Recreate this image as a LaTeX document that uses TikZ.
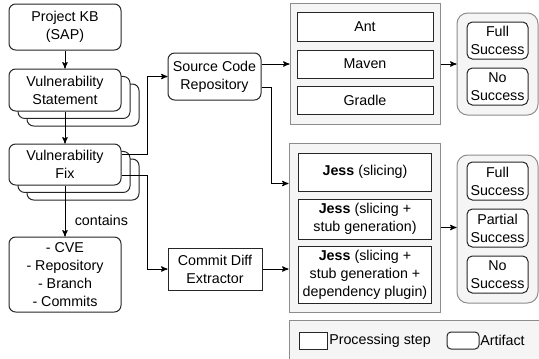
\documentclass[tikz,border=0pt]{standalone}
\usepackage{fontspec}
\setmainfont{Liberation Sans}
\usetikzlibrary{calc}
\usetikzlibrary{arrows}
\usetikzlibrary{shadows}

\newcommand{\jess}{\textbf{Jess}}

\begin{document}
\begin{tikzpicture}[x=0.75pt,y=-0.75pt,>=stealth',
		font=\fontsize{10.7}{13.5}\selectfont,
		every node/.style={align=center,inner sep=0pt},
		sz/.style 2 args={minimum width=#1*0.75pt,minimum height=#2*0.75pt},
		artifact/.style={rectangle,rounded corners=5pt,draw=black!85,fill=white,line width=0.75pt},
		procstep/.style={rectangle,draw=black!85,fill=white,line width=0.75pt},
		group/.style={rectangle,draw=black!45,fill=black!4,line width=0.75pt},
		stack/.style={artifact,
			general shadow={shadow xshift=13.5pt,shadow yshift=-11.25pt,draw=black!85,fill=white,line width=0.75pt},
			general shadow={shadow xshift=6.75pt,shadow yshift=-5.6pt,draw=black!85,fill=white,line width=0.75pt}},
		line/.style={line width=0.75pt}]
		\path[use as bounding box,clip] (0,0) rectangle (539,358);
		
		% grouping boxes
		\node[group,sz={150}{121}] (build) at (365,64) {};
		\node[group,sz={151}{169}] (jess) at (364.5,227.5) {};
		\node[group,rounded corners=8pt,sz={81}{102}] (res1) at (497.5,64) {};
		\node[group,rounded corners=8pt,sz={81}{148}] (res2) at (497.5,229) {};
		\node[group,sz={252}{40}] (legend) at (415,340) {};
		
		% left column
		\node[artifact,sz={112}{46}] (kb) at (65,27) {Project KB\\(SAP)};
		\node[stack,sz={112}{42}] (stmt) at (65,90) {Vulnerability\\Statement};
		\node[stack,sz={112}{41}] (fix) at (65,164.5) {Vulnerability\\Fix};
		\node[artifact,sz={112}{75}] (cve) at (65,274.5) {- CVE\\- Repository\\- Branch\\- Commits};
		
		\node[artifact,sz={93}{47}] (scr) at (214.5,76.5) {Source Code\\Repository};
		\node[procstep,sz={94}{42}] (cde) at (215,269) {Commit Diff\\Extractor};
		
		% build tools
		\node[procstep,sz={136}{29}] (ant) at (365,27) {Ant};
		\node[procstep,sz={136}{28}] (maven) at (365,64) {Maven};
		\node[procstep,sz={136}{28}] (gradle) at (365,100.5) {Gradle};
		
		% jess variants
		\node[procstep,sz={133}{38}] (jslice) at (365,172) {\jess{} (slicing)};
		\node[procstep,sz={133}{40}] (jstub) at (365,219) {\jess{} (slicing +\\stub generation)};
		\node[procstep,sz={133}{57}] (jdep) at (365,274.5) {\jess{} (slicing +\\stub generation +\\dependency plugin)};
		
		% outcomes
		\node[artifact,rounded corners=4pt,sz={61}{37}] (full1) at (497.5,40.5) {Full\\Success};
		\node[artifact,rounded corners=4pt,sz={61}{37}] (none1) at (497.5,86.5) {No\\Success};
		\node[artifact,rounded corners=4pt,sz={61}{38}] (full2) at (497.5,181) {Full\\Success};
		\node[artifact,rounded corners=4pt,sz={61}{38}] (part2) at (497.5,228) {Partial\\Success};
		\node[artifact,rounded corners=4pt,sz={61}{37}] (none2) at (497.5,274.5) {No\\Success};
		
		% legend
		\node[procstep,sz={28}{17}] (lproc) at (313,340.5) {};
		\node[anchor=west] (lproctxt) at (329,340.5) {Processing step};
		\node[artifact,rounded corners=3pt,sz={32}{17}] (lart) at (463,340.5) {};
		\node[anchor=west] (larttxt) at (480,340.5) {Artifact};
		
		\draw[->,line] (kb) -- (stmt);
		\draw[->,line] (stmt) -- (fix);
		\draw[->,line] (fix) -- node[anchor=west,pos=0.69,xshift=7pt] {contains} (cve);
		\draw[->,line] ($(fix.east)+(0,-10.5)$) -| ($(scr.west)+(-20,0)$) -- (scr.west);
		\draw[->,line] ($(fix.east)+(0,10.5)$) -| ($(cde.west)+(-20,0)$) -- (cde.west);
		\draw[->,line] ($(scr.east)+(0,-12.5)$) -- (build.west);
		\draw[->,line] ($(scr.east)+(0,10.5)$) -| ($(jess.north west)+(-17,41)$) -- ($(jess.north west)+(0,41)$);
		\draw[->,line] (cde.east) -- (cde.east -| jess.west);
		\draw[->,line] (build.east) -- (res1.west);
		\draw[->,line] (jess.east) -- (jess.east -| res2.west);
\end{tikzpicture}
\end{document}
